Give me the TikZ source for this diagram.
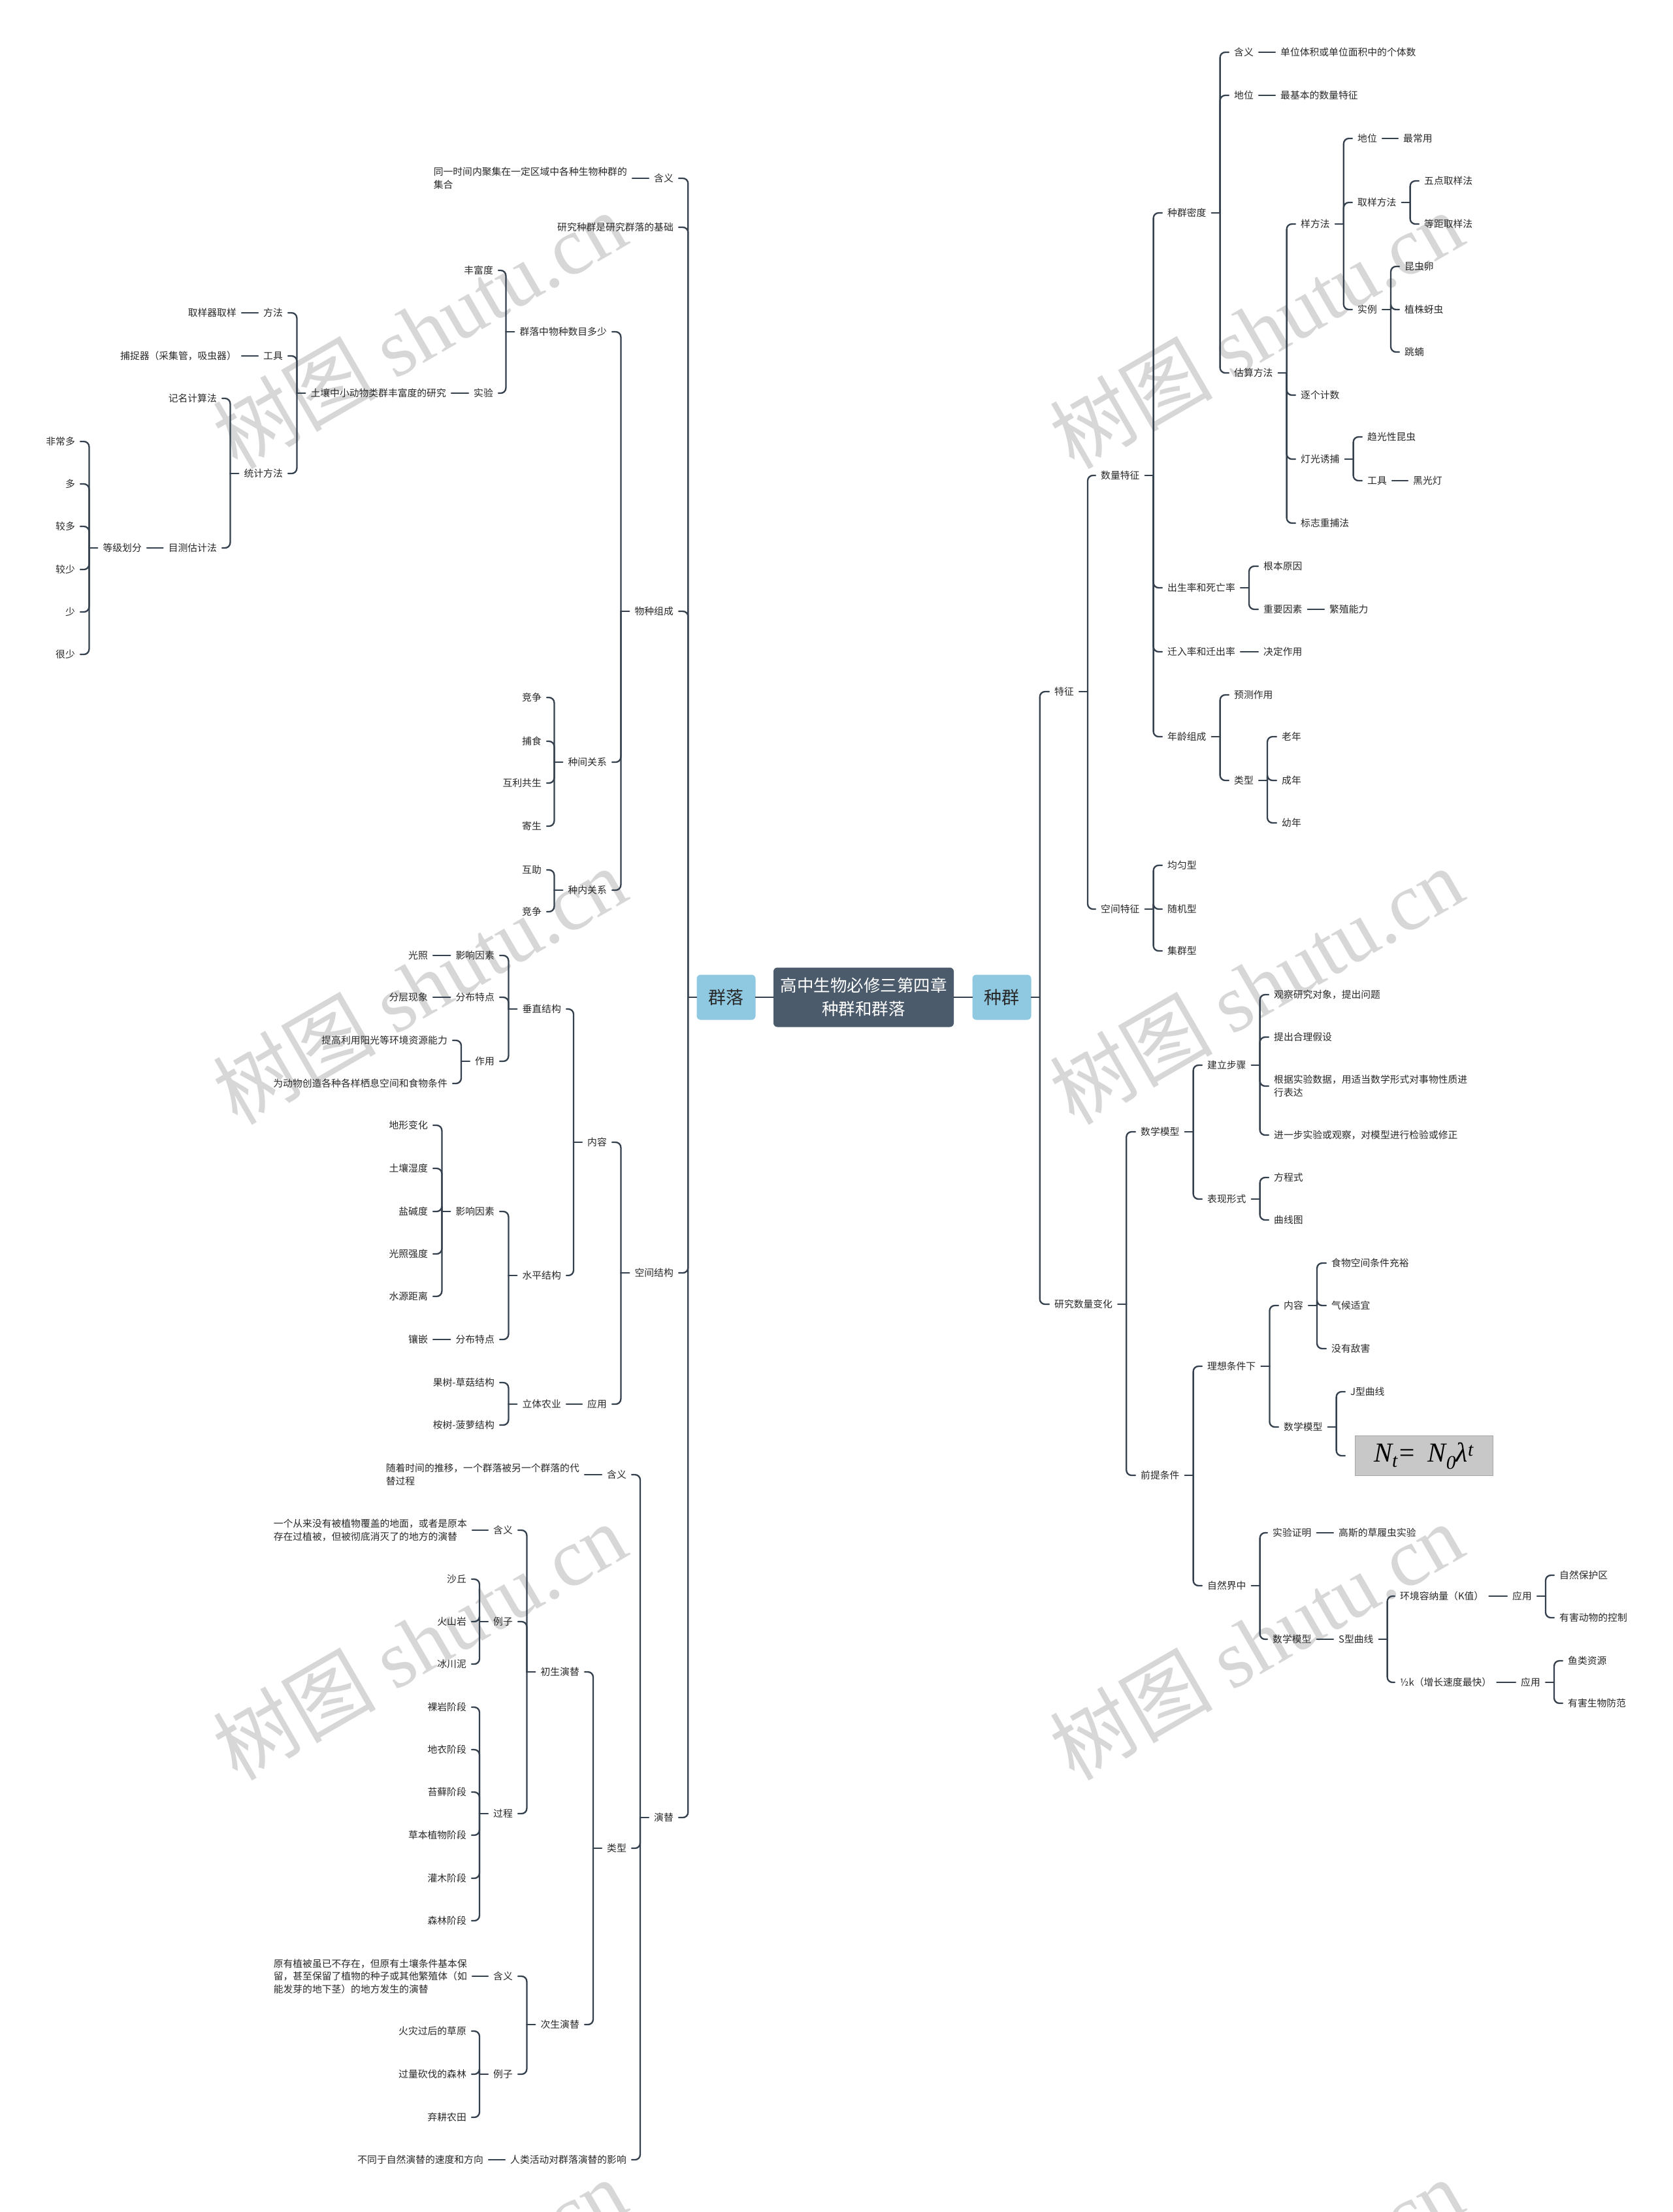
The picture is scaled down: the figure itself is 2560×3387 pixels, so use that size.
\documentclass[tikz,border=0pt]{standalone}
\usepackage{fontspec}
\setmainfont{Noto Sans CJK SC}
\newfontfamily\wmlatin{Liberation Serif}
\usetikzlibrary{positioning, calc}
\definecolor{linecol}{RGB}{52,64,78}
\definecolor{txtcol}{RGB}{40,40,40}
\definecolor{rootfill}{RGB}{75,91,107}
\definecolor{subfill}{RGB}{142,200,225}
\definecolor{wmcol}{RGB}{215,215,215}
\definecolor{fmlfill}{RGB}{200,200,200}
\tikzset{
  link/.style={draw=linecol, line width=2.3pt, line cap=round},
  bar/.style={link, rounded corners=8pt},
  rn/.style={anchor=west, inner xsep=8pt, inner ysep=2pt, text=txtcol, align=left, font=\fontsize{14.8}{19.5}\selectfont},
  ln/.style={rn, anchor=east},
  rootbox/.style={fill=rootfill, rounded corners=6pt, text=white, align=center, inner sep=0pt, minimum width=276pt, minimum height=91pt, font=\fontsize{25.5}{36}\selectfont},
  subbox/.style={fill=subfill, rounded corners=6pt, text=txtcol, inner sep=0pt, minimum width=90pt, minimum height=69pt, font=\fontsize{27}{30}\selectfont},
  fmlbox/.style={anchor=west, outer xsep=15pt, fill=fmlfill, draw=gray!70, minimum width=211pt, minimum height=61pt, font=\fontsize{42}{44}\selectfont\wmlatin\itshape},
  wm/.style={rotate=30, text=wmcol, font=\fontsize{125}{130}\selectfont}
}
% spine from a parent to its children, right and left of the centre
\newcommand{\rbranch}[2]{%
  \draw[link] (#1.east) -- ++(13,0) coordinate (#1-sp);
  \foreach \c in {#2}{\draw[bar] (#1-sp) |- (\c.west);}
}
\newcommand{\lbranch}[2]{%
  \draw[link] (#1.west) -- ++(-13,0) coordinate (#1-sp);
  \foreach \c in {#2}{\draw[bar] (#1-sp) |- (\c.east);}
}
\begin{document}
\begin{tikzpicture}[x=1pt,y=-1pt]
  \path[use as bounding box, fill=white] (0,0) rectangle (2560,3387);

  % watermark
  \begin{scope}
    \clip (0,0) rectangle (2560,3387);
    \foreach \wx/\wy [count=\i] in {642/505, 642/1509, 642/2513, 642/3517, 1923/505, 1923/1509, 1923/2513, 1923/3517}
      \node[wm] (wm\i) at (\wx,\wy) {树图 {\wmlatin shutu.cn}};
  \end{scope}

  % centre
  \node[rootbox] (root) at (1322,1527) {高中生物必修三第四章\\种群和群落};
  \node[subbox] (zq) at (1533.5,1527) {种群};
  \node[subbox] (ql) at (1111.5,1527) {群落};
  \draw[link] (root.east) -- (zq.west);
  \draw[link] (root.west) -- (ql.east);

  % ---------- 种群 ----------
  \node[rn] (tz) at (1606,1059) {特征};
  \node[rn] (yj) at (1606,1997) {研究数量变化};
  \node[rn] (slt) at (1677,728) {数量特征};
  \node[rn] (kjt) at (1677,1392) {空间特征};
  \node[rn] (md) at (1779,326) {种群密度};
  \node[rn] (csl) at (1779,900) {出生率和死亡率};
  \node[rn] (qrl) at (1779,998) {迁入率和迁出率};
  \node[rn] (nlzc) at (1779,1128) {年龄组成};
  \node[rn] (jy) at (1779,1325) {均匀型};
  \node[rn] (sj) at (1779,1392) {随机型};
  \node[rn] (jq) at (1779,1456) {集群型};
  \node[rn] (mdhy) at (1881,80) {含义};
  \node[rn] (mdhyT) at (1952,80) {单位体积或单位面积中的个体数};
  \node[rn] (mddw) at (1881,146) {地位};
  \node[rn] (mddwT) at (1952,146) {最基本的数量特征};
  \node[rn] (gsff) at (1881,571) {估算方法};
  \node[rn] (yff) at (1983,343) {样方法};
  \node[rn] (zgjs) at (1983,605) {逐个计数};
  \node[rn] (dgyb) at (1983,703) {灯光诱捕};
  \node[rn] (bzcb) at (1983,801) {标志重捕法};
  \node[rn] (yfdw) at (2070,212) {地位};
  \node[rn] (yfdwT) at (2140,212) {最常用};
  \node[rn] (qyff) at (2070,310) {取样方法};
  \node[rn] (wdqy) at (2172,277) {五点取样法};
  \node[rn] (djqy) at (2172,343) {等距取样法};
  \node[rn] (sl) at (2070,474) {实例};
  \node[rn] (kcl) at (2142,408) {昆虫卵};
  \node[rn] (zzyc) at (2142,474) {植株蚜虫};
  \node[rn] (tn) at (2142,539) {跳蝻};
  \node[rn] (qgx) at (2085,669) {趋光性昆虫};
  \node[rn] (gj) at (2085,736) {工具};
  \node[rn] (hgd) at (2155,736) {黑光灯};
  \node[rn] (gbyy) at (1926,867) {根本原因};
  \node[rn] (zyys) at (1926,933) {重要因素};
  \node[rn] (fznl) at (2027,933) {繁殖能力};
  \node[rn] (jdzy) at (1926,998) {决定作用};
  \node[rn] (yczy) at (1881,1064) {预测作用};
  \node[rn] (nllx) at (1881,1195) {类型};
  \node[rn] (lao) at (1954,1128) {老年};
  \node[rn] (cheng) at (1954,1195) {成年};
  \node[rn] (you) at (1954,1260) {幼年};
  \node[rn] (sxmx) at (1738,1733) {数学模型};
  \node[rn] (qttj) at (1738,2259) {前提条件};
  \node[rn] (jlbz) at (1840,1631) {建立步骤};
  \node[rn] (bxxs) at (1840,1836) {表现形式};
  \node[rn] (bz1) at (1942,1523) {观察研究对象，提出问题};
  \node[rn] (bz2) at (1942,1588) {提出合理假设};
  \node[rn] (bz3) at (1942,1663) {根据实验数据，用适当数学形式对事物性质进\\行表达};
  \node[rn] (bz4) at (1942,1738) {进一步实验或观察，对模型进行检验或修正};
  \node[rn] (fcs) at (1942,1803) {方程式};
  \node[rn] (qxt) at (1942,1868) {曲线图};
  \node[rn] (lxtj) at (1840,2092) {理想条件下};
  \node[rn] (zrj) at (1840,2428) {自然界中};
  \node[rn] (lxnr) at (1957,1999) {内容};
  \node[rn] (lxmx) at (1957,2185) {数学模型};
  \node[rn] (sw) at (2030,1934) {食物空间条件充裕};
  \node[rn] (qh) at (2030,1999) {气候适宜};
  \node[rn] (mydh) at (2030,2065) {没有敌害};
  \node[rn] (jx) at (2059,2131) {J型曲线};
  \node[fmlbox] (fml) at (2059,2229) {N\textsubscript{t}= \,N\textsubscript{0}λ\textsuperscript{t}};
  \node[rn] (syzm) at (1940,2347) {实验证明};
  \node[rn] (gs) at (2041,2347) {高斯的草履虫实验};
  \node[rn] (zrmx) at (1940,2510) {数学模型};
  \node[rn] (sx) at (2041,2510) {S型曲线};
  \node[rn] (kz) at (2135,2444) {环境容纳量（K值）};
  \node[rn] (kyy) at (2307,2444) {应用};
  \node[rn] (bhq) at (2379,2412) {自然保护区};
  \node[rn] (yhdw) at (2379,2477) {有害动物的控制};
  \node[rn] (hk) at (2135,2576) {½k（增长速度最快）};
  \node[rn] (hkyy) at (2320,2576) {应用};
  \node[rn] (ylzy) at (2392,2543) {鱼类资源};
  \node[rn] (yhsw) at (2392,2608) {有害生物防范};

  \rbranch{zq}{tz,yj}
  \rbranch{tz}{slt,kjt}
  \rbranch{slt}{md,csl,qrl,nlzc}
  \rbranch{kjt}{jy,sj,jq}
  \rbranch{md}{mdhy,mddw,gsff}
  \rbranch{gsff}{yff,zgjs,dgyb,bzcb}
  \rbranch{yff}{yfdw,qyff,sl}
  \rbranch{qyff}{wdqy,djqy}
  \rbranch{sl}{kcl,zzyc,tn}
  \rbranch{dgyb}{qgx,gj}
  \rbranch{csl}{gbyy,zyys}
  \rbranch{nlzc}{yczy,nllx}
  \rbranch{nllx}{lao,cheng,you}
  \rbranch{yj}{sxmx,qttj}
  \rbranch{sxmx}{jlbz,bxxs}
  \rbranch{jlbz}{bz1,bz2,bz3,bz4}
  \rbranch{bxxs}{fcs,qxt}
  \rbranch{qttj}{lxtj,zrj}
  \rbranch{lxtj}{lxnr,lxmx}
  \rbranch{lxnr}{sw,qh,mydh}
  \rbranch{lxmx}{jx,fml}
  \rbranch{zrj}{syzm,zrmx}
  \rbranch{sx}{kz,hk}
  \rbranch{kyy}{bhq,yhdw}
  \rbranch{hkyy}{ylzy,yhsw}
  \foreach \a/\b in {mdhy/mdhyT, mddw/mddwT, yfdw/yfdwT, gj/hgd, zyys/fznl, qrl/jdzy, syzm/gs, zrmx/sx, kz/kyy, hk/hkyy}
    \draw[link] (\a.east) -- (\b.west);

  % ---------- 群落 ----------
  \node[ln] (qlhy) at (1039,273) {含义};
  \node[ln] (qlhyT) at (968,273) {同一时间内聚集在一定区域中各种生物种群的\\集合};
  \node[ln] (jc) at (1039,348) {研究种群是研究群落的基础};
  \node[ln] (wzzc) at (1039,936) {物种组成};
  \node[ln] (kjjg) at (1039,1949) {空间结构};
  \node[ln] (yt) at (1039,2783) {演替};
  \node[ln] (wzsm) at (937,508) {群落中物种数目多少};
  \node[ln] (zjgx) at (937,1167) {种间关系};
  \node[ln] (znzgx) at (937,1363) {种内关系};
  \node[ln] (ffd) at (763,414) {丰富度};
  \node[ln] (sy) at (763,602) {实验};
  \node[ln] (trdw) at (691,602) {土壤中小动物类群丰富度的研究};
  \node[ln] (ff) at (441,479) {方法};
  \node[ln] (ffT) at (370,479) {取样器取样};
  \node[ln] (gju) at (441,545) {工具};
  \node[ln] (gjuT) at (370,545) {捕捉器（采集管，吸虫器）};
  \node[ln] (tjff) at (441,725) {统计方法};
  \node[ln] (jmjs) at (340,610) {记名计算法};
  \node[ln] (mcgj) at (340,839) {目测估计法};
  \node[ln] (djhf) at (225,839) {等级划分};
  \foreach \t/\y [count=\i] in {非常多/676, 多/741, 较多/806, 较少/872, 少/937, 很少/1002}
    \node[ln] (d\i) at (123,\y) {\t};
  \node[ln] (jz1) at (837,1068) {竞争};
  \node[ln] (bs) at (837,1135) {捕食};
  \node[ln] (hlgs) at (837,1199) {互利共生};
  \node[ln] (jsh) at (837,1265) {寄生};
  \node[ln] (hz) at (837,1332) {互助};
  \node[ln] (jz2) at (837,1396) {竞争};
  \node[ln] (kjnr) at (937,1749) {内容};
  \node[ln] (kjyy) at (937,2150) {应用};
  \node[ln] (czjg) at (867,1545) {垂直结构};
  \node[ln] (spjg) at (867,1953) {水平结构};
  \node[ln] (czyx) at (765,1463) {影响因素};
  \node[ln] (gz) at (663,1463) {光照};
  \node[ln] (czfb) at (765,1527) {分布特点};
  \node[ln] (fcxx) at (663,1527) {分层现象};
  \node[ln] (czzy) at (765,1625) {作用};
  \node[ln] (zy1) at (693,1593) {提高利用阳光等环境资源能力};
  \node[ln] (zy2) at (693,1659) {为动物创造各种各样栖息空间和食物条件};
  \node[ln] (spyx) at (765,1855) {影响因素};
  \node[ln] (dx) at (663,1723) {地形变化};
  \node[ln] (trsd) at (663,1789) {土壤湿度};
  \node[ln] (yjd) at (663,1855) {盐碱度};
  \node[ln] (gzqd) at (663,1920) {光照强度};
  \node[ln] (syjl) at (663,1985) {水源距离};
  \node[ln] (spfb) at (765,2051) {分布特点};
  \node[ln] (xq) at (663,2051) {镶嵌};
  \node[ln] (ltny) at (867,2150) {立体农业};
  \node[ln] (gscg) at (765,2117) {果树-草菇结构};
  \node[ln] (asbl) at (765,2182) {桉树-菠萝结构};
  \node[ln] (ythy) at (967,2258) {含义};
  \node[ln] (ythyT) at (895,2258) {随着时间的推移，一个群落被另一个群落的代\\替过程};
  \node[ln] (ytlx) at (967,2830) {类型};
  \node[ln] (rlhd) at (967,3307) {人类活动对群落演替的影响};
  \node[ln] (rlhdT) at (748,3307) {不同于自然演替的速度和方向};
  \node[ln] (csyt) at (895,2560) {初生演替};
  \node[ln] (cxyt) at (895,3100) {次生演替};
  \node[ln] (cshy) at (793,2343) {含义};
  \node[ln] (cshyT) at (723,2343) {一个从来没有被植物覆盖的地面，或者是原本\\存在过植被，但被彻底消灭了的地方的演替};
  \node[ln] (cslz) at (793,2483) {例子};
  \node[ln] (csgc) at (793,2777) {过程};
  \node[ln] (sq) at (722,2418) {沙丘};
  \node[ln] (hsy) at (722,2483) {火山岩};
  \node[ln] (bcn) at (722,2548) {冰川泥};
  \foreach \t/\y [count=\i] in {裸岩阶段/2614, 地衣阶段/2679, 苔藓阶段/2744, 草本植物阶段/2810, 灌木阶段/2876, 森林阶段/2941}
    \node[ln] (g\i) at (722,\y) {\t};
  \node[ln] (cxhy) at (793,3026) {含义};
  \node[ln] (cxhyT) at (723,3026) {原有植被虽已不存在，但原有土壤条件基本保\\留，甚至保留了植物的种子或其他繁殖体（如\\能发芽的地下茎）的地方发生的演替};
  \node[ln] (cxlz) at (793,3176) {例子};
  \node[ln] (hzcy) at (722,3110) {火灾过后的草原};
  \node[ln] (glkf) at (722,3176) {过量砍伐的森林};
  \node[ln] (qgnt) at (722,3242) {弃耕农田};

  \lbranch{ql}{qlhy,jc,wzzc,kjjg,yt}
  \lbranch{wzzc}{wzsm,zjgx,znzgx}
  \lbranch{wzsm}{ffd,sy}
  \lbranch{trdw}{ff,gju,tjff}
  \lbranch{tjff}{jmjs,mcgj}
  \lbranch{djhf}{d1,d2,d3,d4,d5,d6}
  \lbranch{zjgx}{jz1,bs,hlgs,jsh}
  \lbranch{znzgx}{hz,jz2}
  \lbranch{kjjg}{kjnr,kjyy}
  \lbranch{kjnr}{czjg,spjg}
  \lbranch{czjg}{czyx,czfb,czzy}
  \lbranch{czzy}{zy1,zy2}
  \lbranch{spjg}{spyx,spfb}
  \lbranch{spyx}{dx,trsd,yjd,gzqd,syjl}
  \lbranch{ltny}{gscg,asbl}
  \lbranch{yt}{ythy,ytlx,rlhd}
  \lbranch{ytlx}{csyt,cxyt}
  \lbranch{csyt}{cshy,cslz,csgc}
  \lbranch{cslz}{sq,hsy,bcn}
  \lbranch{csgc}{g1,g2,g3,g4,g5,g6}
  \lbranch{cxyt}{cxhy,cxlz}
  \lbranch{cxlz}{hzcy,glkf,qgnt}
  \foreach \a/\b in {qlhy/qlhyT, sy/trdw, ff/ffT, gju/gjuT, mcgj/djhf, czyx/gz, czfb/fcxx, spfb/xq, kjyy/ltny, ythy/ythyT, cshy/cshyT, cxhy/cxhyT, rlhd/rlhdT}
    \draw[link] (\a.west) -- (\b.east);
\end{tikzpicture}
\end{document}
